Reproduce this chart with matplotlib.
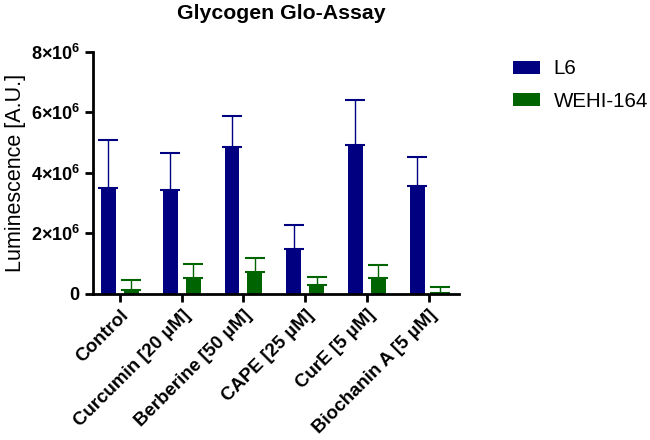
import matplotlib
matplotlib.use("Agg")
import matplotlib.pyplot as plt
import numpy as np
from matplotlib.ticker import FixedLocator, FuncFormatter

plt.rcParams['font.family'] = ['Liberation Sans', 'DejaVu Sans']
plt.rcParams['mathtext.fontset'] = 'custom'
plt.rcParams['mathtext.rm'] = 'Liberation Sans'
plt.rcParams['mathtext.bf'] = 'Liberation Sans:bold'

categories = ["Control", "Curcumin [20 µM]", "Berberine [50 µM]", "CAPE [25 µM]",
              "CurE [5 µM]", "Biochanin A [5 µM]"]
series_names = ["L6", "WEHI-164"]
l6_mean = [3.51e6, 3.42e6, 4.86e6, 1.50e6, 4.93e6, 3.57e6]
l6_err = [1.58e6, 1.24e6, 1.02e6, 0.77e6, 1.48e6, 0.94e6]
wehi_mean = [0.13e6, 0.51e6, 0.72e6, 0.30e6, 0.51e6, 0.03e6]
wehi_err = [0.32e6, 0.47e6, 0.48e6, 0.27e6, 0.45e6, 0.19e6]
yticks = [0, 2e6, 4e6, 6e6, 8e6]

blue = "#000080"
green = "#006400"

fig = plt.figure(figsize=(6.5, 4.4), dpi=100)
ax = fig.add_axes([0.143, 0.332, 0.563, 0.550])

x = np.arange(len(categories))
w = 0.24
off = 0.186
b1 = ax.bar(x - off, l6_mean, w, color=blue, label=series_names[0],
            yerr=[np.zeros(len(x)), l6_err],
            error_kw=dict(ecolor=blue, elinewidth=1.0, capsize=7, capthick=1.5))
b2 = ax.bar(x + off, wehi_mean, w, color=green, label=series_names[1],
            yerr=[np.zeros(len(x)), wehi_err],
            error_kw=dict(ecolor=green, elinewidth=1.0, capsize=7, capthick=1.5))

ax.set_xlim(-0.437, 5.49)
ax.set_ylim(0, 8e6)
ax.yaxis.set_major_locator(FixedLocator(yticks))

def fmt(v, pos):
    if v == 0:
        return r"$\mathbf{0}$"
    return r"$\mathbf{%d{\times}10^{6}}$" % int(round(v / 1e6))

ax.yaxis.set_major_formatter(FuncFormatter(fmt))
ax.set_xticks(x)
ax.set_xticklabels(categories, rotation=45, ha='right', rotation_mode='anchor',
                   fontsize=13.5, fontweight='bold')
ax.tick_params(axis='y', labelsize=13, width=2, length=6, pad=3)
ax.tick_params(axis='x', width=2, length=6, pad=3)
for s in ['top', 'right']:
    ax.spines[s].set_visible(False)
for s in ['left', 'bottom']:
    ax.spines[s].set_linewidth(2)

ax.set_ylabel("Luminescence [A.U.]", fontsize=15.5)
ax.yaxis.set_label_coords(-0.184, 0.5)
ax.set_title("Glycogen Glo-Assay", fontsize=15.3, fontweight='bold', pad=24, x=0.515)

fig.legend(handles=[b1.patches[0], b2.patches[0]], labels=series_names,
           loc='upper left', bbox_to_anchor=(0.789, 0.865), frameon=False,
           fontsize=14.8, handlelength=1.3, handleheight=0.6, labelspacing=0.65,
           handletextpad=0.68, borderpad=0, borderaxespad=0)

fig.savefig("out.png", dpi=100)
